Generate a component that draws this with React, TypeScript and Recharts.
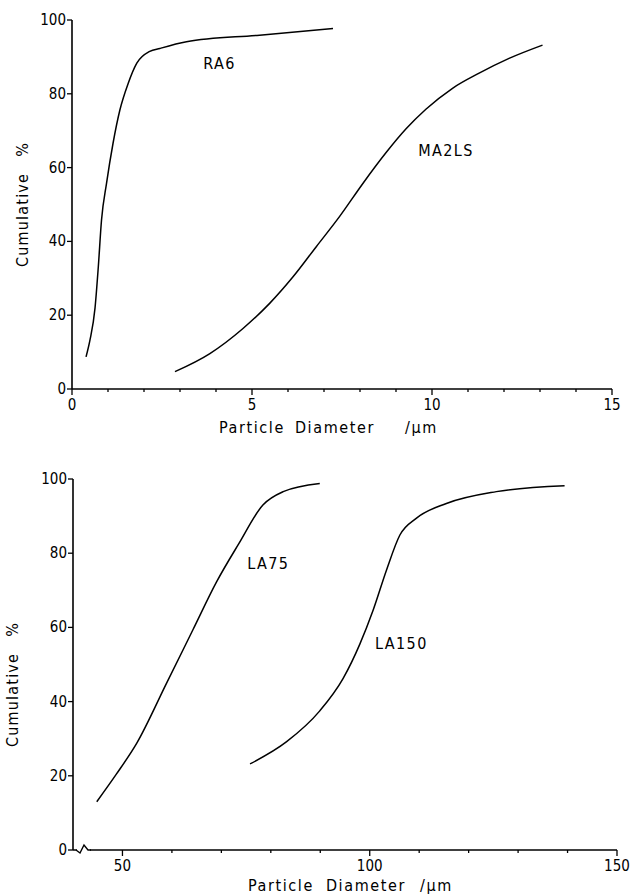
import React from 'react';
import { LineChart, Line, XAxis, YAxis, ReferenceDot, Label } from 'recharts';

// ---- Top panel data (µm, cumulative %) ----
const ra6X = [0.39, 0.5, 0.64, 0.73, 0.82, 0.96, 1.14, 1.33, 1.56, 1.8, 2.16, 2.44, 3.18, 5.21, 7.25];
const ra6Y = [8.7, 13.3, 22, 33, 45.8, 55.8, 66.6, 75.6, 82.8, 88.3, 91.5, 92.3, 94.1, 95.9, 97.7];
const ma2lsX = [2.86, 3.83, 4.75, 5.49, 6.14, 6.78, 7.43, 8.08, 8.72, 9.28, 9.83, 10.57, 11.31, 12.14, 13.07];
const ma2lsY = [4.7, 9.6, 16.4, 23.2, 30.4, 38.5, 46.7, 55.7, 64.0, 70.5, 75.8, 81.5, 85.6, 89.6, 93.2];

// ---- Bottom panel data ----
const la75X = [44.8, 48.8, 52.9, 58.9, 64.3, 69.0, 73.5, 78.4, 82.5, 89.9];
const la75Y = [13, 20.5, 28.8, 44.9, 59.5, 72.2, 82.5, 93, 96.6, 98.8];
const la150X = [75.8, 83.2, 89.9, 94.6, 98.0, 100.7, 103.4, 106.1, 109.4, 115.5, 125.6, 139.4];
const la150Y = [23.2, 29.2, 37.5, 46.2, 55.5, 64.7, 75.5, 84.9, 89.4, 93.4, 96.6, 98.2];

// ---- Ticks ----
const topXTicks = [0, 1, 2, 3, 4, 5, 6, 7, 8, 9, 10, 11, 12, 13, 14, 15];
const topXLabels = [0, 5, 10, 15];
const botXTicks = [40, 50, 60, 70, 80, 90, 100, 110, 120, 130, 140, 150];
const botXLabels = [50, 100, 150];
const yTicks = [0, 20, 40, 60, 80, 100];

// ---- Curve annotations ----
const topNames = ['RA6', 'MA2LS'];
const topNameX = [4.1, 10.39];
const topNameY = [88.3, 64.8];
const botNames = ['LA75', 'LA150'];
const botNameX = [79.5, 106.4];
const botNameY = [77.4, 55.7];

const xAxisWords = ['Particle', 'Diameter', '/µm'];
const yAxisWords = ['Cumulative', '%'];

const zip = (xs: number[], ys: number[]) => xs.map((x, i) => ({ x, y: ys[i] }));

const FONT = '"DejaVu Sans Condensed", "DejaVu Sans", sans-serif';

const makeXTick = (labels: number[], breakAt?: number) => (props: any) => {
  const { x, y, payload } = props;
  const v = payload.value;
  if (breakAt !== undefined && v === breakAt) {
    return (
      <g>
        <rect x={x + 4} y={y - 1.5} width={13} height={3} fill="#fff" />
        <polyline
          points={`${x + 3},${y} ${x + 7},${y + 3} ${x + 11},${y - 5} ${x + 15},${y} ${x + 18},${y}`}
          fill="none"
          stroke="#000"
          strokeWidth={1.4}
        />
      </g>
    );
  }
  const major = labels.includes(v);
  return (
    <g>
      <line x1={x} x2={x} y1={y} y2={y + (major ? 6 : 3)} stroke="#000" strokeWidth={1.3} />
      {major && (
        <text x={x} y={y + 21} textAnchor="middle" fontSize={15} fontFamily={FONT} fill="#000">
          {v}
        </text>
      )}
    </g>
  );
};

const yTick = (props: any) => {
  const { x, y, payload } = props;
  return (
    <g>
      <line x1={x} x2={x + 5} y1={y} y2={y} stroke="#000" strokeWidth={1.3} />
      <text x={x - 1} y={y + 5} textAnchor="end" fontSize={15} fontFamily={FONT} fill="#000">
        {payload.value}
      </text>
    </g>
  );
};

const yLabel = (xOff: number, dy: number) => (props: any) => {
  const vb = props.viewBox;
  const cx = vb.x + xOff;
  const cy = vb.y + vb.height / 2 + dy;
  return (
    <text
      x={cx}
      y={cy}
      transform={`rotate(-90, ${cx}, ${cy})`}
      textAnchor="middle"
      fontSize={16}
      fontFamily={FONT}
      letterSpacing={1.2}
      fill="#000"
    >
      {yAxisWords[0]}
      <tspan dx={16}>{yAxisWords[1]}</tspan>
    </text>
  );
};

// offsets: start of text relative to plot left, gaps between words
const xLabel = (startOff: number, dy: number, gap1: number, gap2: number) => (props: any) => {
  const vb = props.viewBox;
  const x0 = vb.x + startOff;
  const cy = vb.y + dy;
  return (
    <text x={x0} y={cy} textAnchor="start" fontSize={16} fontFamily={FONT} letterSpacing={1.6} fill="#000">
      {xAxisWords[0]}
      <tspan dx={gap1}>{xAxisWords[1]}</tspan>
      <tspan dx={gap2}>{xAxisWords[2]}</tspan>
    </text>
  );
};

const curveLabel = (text: string) => (props: any) => {
  const vb = props.viewBox;
  return (
    <text x={vb.x} y={vb.y + 6} textAnchor="middle" fontSize={16} fontFamily={FONT} letterSpacing={1.4} fill="#000">
      {text}
    </text>
  );
};

const lineProps = {
  type: 'monotone' as const,
  dataKey: 'y',
  stroke: '#000',
  strokeWidth: 1.5,
  dot: false,
  isAnimationActive: false,
  activeDot: false,
};

export default function App() {
  return (
    <div style={{ position: 'absolute', left: 0, top: 0, width: 633, height: 895, background: '#fff' }}>
      <LineChart width={633} height={440} margin={{ top: 20, right: 21, left: 32, bottom: 11 }}>
        <XAxis
          type="number"
          dataKey="x"
          domain={[0, 15]}
          ticks={topXTicks}
          interval={0}
          tickSize={0}
          tickMargin={0}
          tickLine={false}
          tick={makeXTick(topXLabels)}
          axisLine={{ stroke: '#000', strokeWidth: 1.6 }}
          height={40}
          allowDataOverflow
        >
          <Label content={xLabel(147, 44, 10, 30)} />
        </XAxis>
        <YAxis
          type="number"
          domain={[0, 100]}
          ticks={yTicks}
          interval={0}
          width={40}
          tickSize={5}
          tickMargin={0}
          tickLine={false}
          tick={yTick}
          axisLine={{ stroke: '#000', strokeWidth: 1.6 }}
        >
          <Label content={yLabel(-4, 0)} />
        </YAxis>
        <Line {...lineProps} data={zip(ra6X, ra6Y)} />
        <Line {...lineProps} data={zip(ma2lsX, ma2lsY)} />
        {topNames.map((n, i) => (
          <ReferenceDot key={n} x={topNameX[i]} y={topNameY[i]} r={0} stroke="none" fill="none" label={curveLabel(n)} />
        ))}
      </LineChart>
      <LineChart width={633} height={455} margin={{ top: 39, right: 16, left: 33, bottom: 5 }}>
        <XAxis
          type="number"
          dataKey="x"
          domain={[40, 150]}
          ticks={botXTicks}
          interval={0}
          tickSize={0}
          tickMargin={0}
          tickLine={false}
          tick={makeXTick(botXLabels, 40)}
          axisLine={{ stroke: '#000', strokeWidth: 1.6 }}
          height={40}
          allowDataOverflow
        >
          <Label content={xLabel(175, 41, 12, 14)} />
        </XAxis>
        <YAxis
          type="number"
          domain={[0, 100]}
          ticks={yTicks}
          interval={0}
          width={40}
          tickSize={5}
          tickMargin={0}
          tickLine={false}
          tick={yTick}
          axisLine={{ stroke: '#000', strokeWidth: 1.6 }}
        >
          <Label content={yLabel(-15, 20)} />
        </YAxis>
        <Line {...lineProps} data={zip(la75X, la75Y)} />
        <Line {...lineProps} data={zip(la150X, la150Y)} />
        {botNames.map((n, i) => (
          <ReferenceDot key={n} x={botNameX[i]} y={botNameY[i]} r={0} stroke="none" fill="none" label={curveLabel(n)} />
        ))}
      </LineChart>
    </div>
  );
}
